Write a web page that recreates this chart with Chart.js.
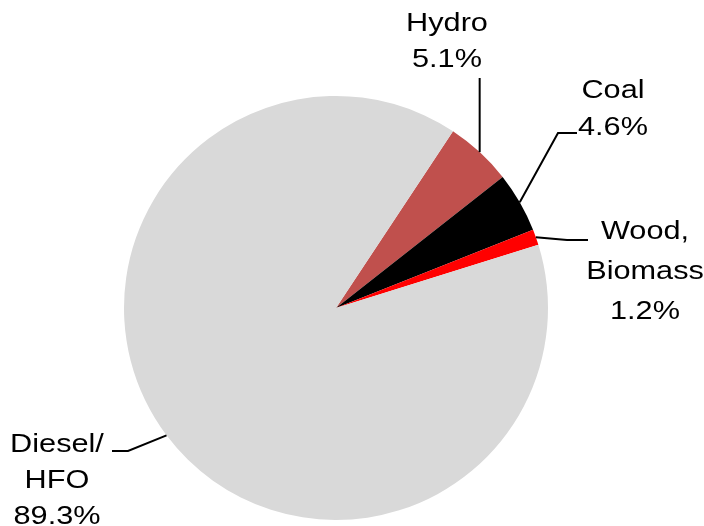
<!DOCTYPE html>
<html>
<head>
<meta charset="utf-8">
<script src="https://cdn.jsdelivr.net/npm/chart.js@4.4.0/dist/chart.umd.min.js"></script>
<style>
  html, body { margin: 0; padding: 0; background: #fff; }
</style>
</head>
<body>
<canvas id="chart" width="704" height="526"></canvas>
<script>
// data
const categories = ['Hydro', 'Coal', 'Wood, Biomass', 'Diesel/ HFO'];
const shares = [5.1, 4.6, 1.2, 89.3];
const nameLines = [['Hydro'], ['Coal'], ['Wood,', 'Biomass'], ['Diesel/', 'HFO']];
const sliceColors = ['#C0504D', '#000000', '#FF0000', '#D9D9D9'];

// where each label sits and how its leader line runs (layout only)
const labelLayout = [
  { cx: 447, y0: 31, lh: 36, elbow: null, end: { x: null, y: 78 } },
  { cx: 613, y0: 98, lh: 37, elbow: { x: 558, y: 133 }, end: { x: 577, y: 133 } },
  { cx: 645, y0: 239, lh: 40, elbow: { x: 567, y: 240 }, end: { x: 588, y: 240 } },
  { cx: 57, y0: 452, lh: 36, elbow: { x: 128, y: 451 }, end: { x: 112, y: 451 } },
];

const labelPlugin = {
  id: 'sliceLabels',
  afterDatasetsDraw(chart) {
    const ctx = chart.ctx;
    const meta = chart.getDatasetMeta(0);
    ctx.save();
    meta.data.forEach((arc, i) => {
      const p = arc.getProps(['x', 'y', 'startAngle', 'endAngle', 'outerRadius'], true);
      const mid = (p.startAngle + p.endAngle) / 2;
      const sx = p.x + Math.cos(mid) * p.outerRadius;
      const sy = p.y + Math.sin(mid) * p.outerRadius;
      const lay = labelLayout[i];

      ctx.strokeStyle = '#000';
      ctx.lineWidth = 2;
      ctx.beginPath();
      ctx.moveTo(sx, sy);
      if (lay.elbow) ctx.lineTo(lay.elbow.x, lay.elbow.y);
      ctx.lineTo(lay.end.x === null ? sx : lay.end.x, lay.end.y);
      ctx.stroke();

      const lines = nameLines[i].concat([shares[i].toFixed(1) + '%']);
      ctx.fillStyle = '#000';
      ctx.font = '26px "Liberation Sans", Arial, sans-serif';
      ctx.textAlign = 'center';
      ctx.textBaseline = 'alphabetic';
      lines.forEach((t, k) => {
        ctx.save();
        ctx.translate(lay.cx, lay.y0 + k * lay.lh);
        ctx.scale(1.18, 1);
        ctx.fillText(t, 0, 0);
        ctx.restore();
      });
    });
    ctx.restore();
  }
};

new Chart(document.getElementById('chart'), {
  type: 'pie',
  data: {
    labels: categories,
    datasets: [{
      data: shares,
      backgroundColor: sliceColors,
      borderWidth: 0,
    }],
  },
  options: {
    responsive: false,
    animation: false,
    events: [],
    rotation: 33.5,
    layout: { padding: { top: 96, bottom: 6, left: 100, right: 132 } },
    plugins: {
      legend: { display: false },
      tooltip: { enabled: false },
    },
  },
  plugins: [labelPlugin],
});
</script>
</body>
</html>
